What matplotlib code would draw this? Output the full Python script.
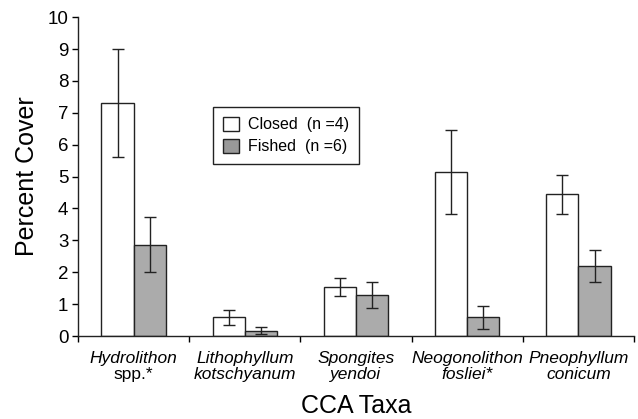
import numpy as np
import matplotlib.pyplot as plt
from matplotlib.patches import Patch
from matplotlib.transforms import blended_transform_factory, offset_copy

plt.rcParams['font.family'] = ['Liberation Sans', 'DejaVu Sans']

genus = ["Hydrolithon", "Lithophyllum", "Spongites", "Neogonolithon", "Pneophyllum"]
species = ["spp.*", "kotschyanum", "yendoi", "fosliei*", "conicum"]
closed = [7.3, 0.59, 1.53, 5.15, 4.44]
closed_err = [1.7, 0.23, 0.28, 1.31, 0.62]
fished = [2.87, 0.17, 1.28, 0.59, 2.2]
fished_err = [0.85, 0.1, 0.4, 0.36, 0.5]

fig = plt.figure(figsize=(6.38, 4.19), dpi=100)
ax = fig.add_axes([0.1223, 0.198, 0.8714, 0.761])

x = np.arange(len(genus))
w = 0.29
ekw = dict(ecolor='#222222', elinewidth=1.0, capsize=4, capthick=1.0)
ax.bar(x - w / 2, closed, w, color='white', edgecolor='#222222', linewidth=1.0,
       yerr=closed_err, error_kw=ekw, zorder=2)
ax.bar(x + w / 2, fished, w, color='#ababab', edgecolor='#222222', linewidth=1.0,
       yerr=fished_err, error_kw=ekw, zorder=2)

ax.set_xlim(-0.5, len(genus) - 0.5)
ax.set_ylim(0, 10)
ax.set_yticks(range(0, 11))
ax.tick_params(axis='y', labelsize=13.5, length=4, width=1, direction='out', pad=3)

ax.set_xticks(np.arange(-0.5, len(genus), 1.0))
ax.set_xticklabels([])
ax.tick_params(axis='x', which='major', length=4, width=1, direction='out')

# two-line category labels (species epithet "spp." is upright)
trans = blended_transform_factory(ax.transData, ax.transAxes)
t1 = offset_copy(trans, fig=fig, y=-15, units='dots')
t2 = offset_copy(trans, fig=fig, y=-31, units='dots')
for i in range(len(genus)):
    ax.text(x[i], 0, genus[i], transform=t1, ha='center', va='top',
            fontsize=12.5, style='italic')
    ax.text(x[i], 0, species[i], transform=t2, ha='center', va='top',
            fontsize=12.5, style='normal' if species[i] == "spp.*" else 'italic')

for s in ['top', 'right']:
    ax.spines[s].set_visible(False)
for s in ['left', 'bottom']:
    ax.spines[s].set_linewidth(1.0)
    ax.spines[s].set_color('#222222')

ax.set_ylabel("Percent Cover", fontsize=18, labelpad=6)
ax.set_xlabel("CCA Taxa", fontsize=18)
ax.xaxis.set_label_coords(0.5, -0.182)

handles = [Patch(facecolor='white', edgecolor='#222222', label='Closed  (n =4)'),
           Patch(facecolor='#999999', edgecolor='#222222', label='Fished  (n =6)')]
leg = ax.legend(handles=handles, loc='upper left', bbox_to_anchor=(0.243, 0.718),
                borderaxespad=0, fontsize=11.5, fancybox=False, framealpha=1,
                edgecolor='#222222', handlelength=1.0, handleheight=1.0,
                handletextpad=0.6, borderpad=0.6, labelspacing=0.4)
leg.get_frame().set_linewidth(1.0)

fig.savefig("out.png", dpi=100)
